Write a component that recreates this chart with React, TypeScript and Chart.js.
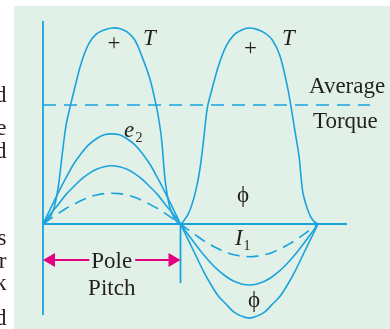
import React, { useEffect, useRef } from "react";
import { Chart, registerables } from "chart.js";

Chart.register(...registerables);

// ---------- data (x in electrical degrees, y relative to peak torque) ----------
const T_DEG = [0, 5, 10, 15, 20, 25, 30, 35, 40, 50, 60, 70, 80, 90, 100, 110, 120, 130, 140, 145, 150, 155, 160, 165, 170, 175, 180,
  185, 190, 195, 200, 205, 210, 215, 220, 230, 240, 250, 260, 270, 280, 290, 300, 310, 320, 325, 330, 335, 340, 345, 350, 355, 360];
const T_VAL = [0, 0.015, 0.04, 0.09, 0.19, 0.35, 0.5, 0.59, 0.67, 0.82, 0.92, 0.97, 0.99, 1.0, 0.998, 0.98, 0.94, 0.85, 0.74, 0.66, 0.57, 0.44, 0.22, 0.1, 0.045, 0.012, 0,
  0.02, 0.05, 0.1, 0.17, 0.27, 0.42, 0.59, 0.67, 0.81, 0.91, 0.965, 0.99, 1.0, 0.993, 0.975, 0.94, 0.86, 0.7, 0.59, 0.47, 0.35, 0.165, 0.09, 0.04, 0.012, 0];

const WAVE_DEG = [0, 10, 20, 30, 40, 50, 60, 70, 80, 90, 100, 110, 120, 130, 140, 150, 160, 170, 180,
  190, 200, 210, 220, 230, 240, 250, 260, 270, 280, 290, 300, 310, 320, 330, 340, 350, 360];
const E2_VAL = [0, 0.08, 0.16, 0.235, 0.305, 0.36, 0.405, 0.435, 0.455, 0.46, 0.455, 0.435, 0.405, 0.36, 0.305, 0.235, 0.16, 0.08, 0,
  -0.08, -0.16, -0.24, -0.31, -0.37, -0.41, -0.45, -0.47, -0.48, -0.47, -0.45, -0.41, -0.37, -0.31, -0.24, -0.16, -0.08, 0];
const MID_VAL = [0, 0.052, 0.1, 0.15, 0.19, 0.228, 0.257, 0.279, 0.292, 0.297, 0.292, 0.279, 0.257, 0.228, 0.19, 0.15, 0.1, 0.052, 0,
  -0.054, -0.106, -0.156, -0.2, -0.238, -0.269, -0.292, -0.306, -0.311, -0.306, -0.292, -0.269, -0.238, -0.2, -0.156, -0.106, -0.054, 0];
const I1_VAL = [0, 0.027, 0.054, 0.079, 0.1, 0.12, 0.136, 0.148, 0.155, 0.157, 0.155, 0.148, 0.136, 0.12, 0.1, 0.079, 0.054, 0.027, 0,
  -0.029, -0.057, -0.084, -0.107, -0.128, -0.145, -0.157, -0.164, -0.167, -0.164, -0.157, -0.145, -0.128, -0.107, -0.084, -0.057, -0.029, 0];

const AVG_TORQUE = 0.607;
const POLE_PITCH = 180;

// ---------- layout ----------
const W = 390;
const H = 329;
const X_MIN = -56.29;
const X_MAX = 454.25;
const Y_MIN = -0.5357;
const Y_MAX = 1.1429;
const AXIS_TOP = 1.036;
const AXIS_BOTTOM = -0.464;
const AXIS_RIGHT = 398;
const AVG_END = 428;
const PITCH_LINE_BOTTOM = -0.301;
const ARROW_Y = -0.184;

const CYAN = "#1aa3df";
const MAGENTA = "#e4007f";
const INK = "#231f20";
const PANEL = "#e1f1e7";
const SERIF = '"Liberation Serif", "Times New Roman", serif';

const pts = (xs: number[], ys: number[]) => xs.map((x, i) => ({ x, y: ys[i] }));

const overlay = {
  id: "overlay",
  beforeDatasetsDraw(chart: any) {
    const { ctx, scales } = chart;
    const X = (v: number) => scales.x.getPixelForValue(v);
    const Y = (v: number) => scales.y.getPixelForValue(v);
    ctx.save();
    ctx.strokeStyle = CYAN;
    ctx.lineWidth = 1.8;
    ctx.beginPath();
    ctx.moveTo(X(0), Y(AXIS_TOP));
    ctx.lineTo(X(0), Y(AXIS_BOTTOM));
    ctx.moveTo(X(0), Y(0));
    ctx.lineTo(X(AXIS_RIGHT), Y(0));
    ctx.moveTo(X(POLE_PITCH), Y(0));
    ctx.lineTo(X(POLE_PITCH), Y(PITCH_LINE_BOTTOM));
    ctx.stroke();
    ctx.restore();
  },
  afterDraw(chart: any) {
    const { ctx, scales } = chart;
    const X = (v: number) => scales.x.getPixelForValue(v);
    const Y = (v: number) => scales.y.getPixelForValue(v);
    ctx.save();
    ctx.fillStyle = INK;
    ctx.textBaseline = "alphabetic";

    const txt = (s: string, x: number, y: number, font: string, align: CanvasTextAlign = "left") => {
      ctx.font = font;
      ctx.textAlign = align;
      ctx.fillText(s, x, y);
    };
    const R = `23px ${SERIF}`;
    const I = `italic 23px ${SERIF}`;
    const SUB = `14px ${SERIF}`;

    // margin letters from surrounding book text (clipped)
    const margin: [string, number][] = [["d", 102], ["e", 135], ["d", 158], ["s", 245], ["r", 268], ["k", 290], ["d", 325]];
    margin.forEach(([s, b]) => txt(s, 6.5, b, `23px ${SERIF}`, "right"));

    ctx.textBaseline = "middle";
    txt("+", X(92.9), Y(0.918), R, "center");
    txt("+", X(271.6), Y(0.893), R, "center");
    txt("\u03D5", X(261.8), Y(0.143), R, "center");
    txt("\u03D5", X(276.2), Y(-0.393), R, "center");
    ctx.textBaseline = "alphabetic";

    txt("T", X(130.9), Y(0.913), I);
    txt("T", X(312.9), Y(0.913), I);
    txt("Average", X(348.2), Y(0.668), R);
    txt("Torque", X(353.4), Y(0.49), R);
    txt("e", X(106), Y(0.444), I);
    txt("2", X(121), Y(0.418), SUB);
    txt("I", X(251.3), Y(-0.107), I);
    txt("1", X(262.5), Y(-0.133), SUB);

    // pole pitch arrow
    const ay = Y(ARROW_Y);
    const x0 = X(0);
    const x1 = X(POLE_PITCH);
    const cx = (x0 + x1) / 2;
    ctx.font = R;
    const tw = ctx.measureText("Pole").width;
    txt("Pole", cx, ay + 8, R, "center");
    txt("Pitch", cx, ay + 35, R, "center");
    const head = 12;
    const half = 7;
    ctx.strokeStyle = MAGENTA;
    ctx.fillStyle = MAGENTA;
    ctx.lineWidth = 2;
    ctx.beginPath();
    ctx.moveTo(x0 + head - 1, ay);
    ctx.lineTo(cx - tw / 2 - 2, ay);
    ctx.moveTo(cx + tw / 2 + 3, ay);
    ctx.lineTo(x1 - head + 1, ay);
    ctx.stroke();
    ctx.beginPath();
    ctx.moveTo(x0, ay);
    ctx.lineTo(x0 + head, ay - half);
    ctx.lineTo(x0 + head, ay + half);
    ctx.closePath();
    ctx.fill();
    ctx.beginPath();
    ctx.moveTo(x1, ay);
    ctx.lineTo(x1 - head, ay - half);
    ctx.lineTo(x1 - head, ay + half);
    ctx.closePath();
    ctx.fill();
    ctx.restore();
  },
};

export default function App() {
  const ref = useRef<HTMLCanvasElement | null>(null);

  useEffect(() => {
    if (!ref.current) return;
    const curve = (data: any[], dash: number[] = []) => ({
      data,
      borderColor: CYAN,
      borderWidth: 1.6,
      borderDash: dash,
      pointRadius: 0,
      fill: false,
      tension: 0.35,
    });
    const chart = new Chart(ref.current, {
      type: "line",
      data: {
        datasets: [
          curve(pts(T_DEG, T_VAL)),
          curve(pts(WAVE_DEG, E2_VAL)),
          curve(pts(WAVE_DEG, MID_VAL)),
          curve(pts(WAVE_DEG, I1_VAL), [12, 7]),
          {
            data: [{ x: 0, y: AVG_TORQUE }, { x: AVG_END, y: AVG_TORQUE }],
            borderColor: CYAN,
            borderWidth: 1.6,
            borderDash: [13, 8],
            pointRadius: 0,
            fill: false,
          },
        ],
      },
      options: {
        animation: false,
        responsive: false,
        maintainAspectRatio: false,
        layout: { padding: 0 },
        plugins: { legend: { display: false }, tooltip: { enabled: false }, title: { display: false } },
        scales: {
          x: { type: "linear", min: X_MIN, max: X_MAX, display: false },
          y: { type: "linear", min: Y_MIN, max: Y_MAX, display: false },
        },
      },
      plugins: [overlay],
    });
    return () => chart.destroy();
  }, []);

  return (
    <div style={{ position: "fixed", left: 0, top: 0, width: W, height: H, background: "#ffffff" }}>
      <div style={{ position: "absolute", left: 14, top: 6, right: 0, bottom: 0, background: PANEL }} />
      <canvas ref={ref} width={W} height={H} style={{ position: "absolute", left: 0, top: 0, width: W, height: H }} />
    </div>
  );
}
